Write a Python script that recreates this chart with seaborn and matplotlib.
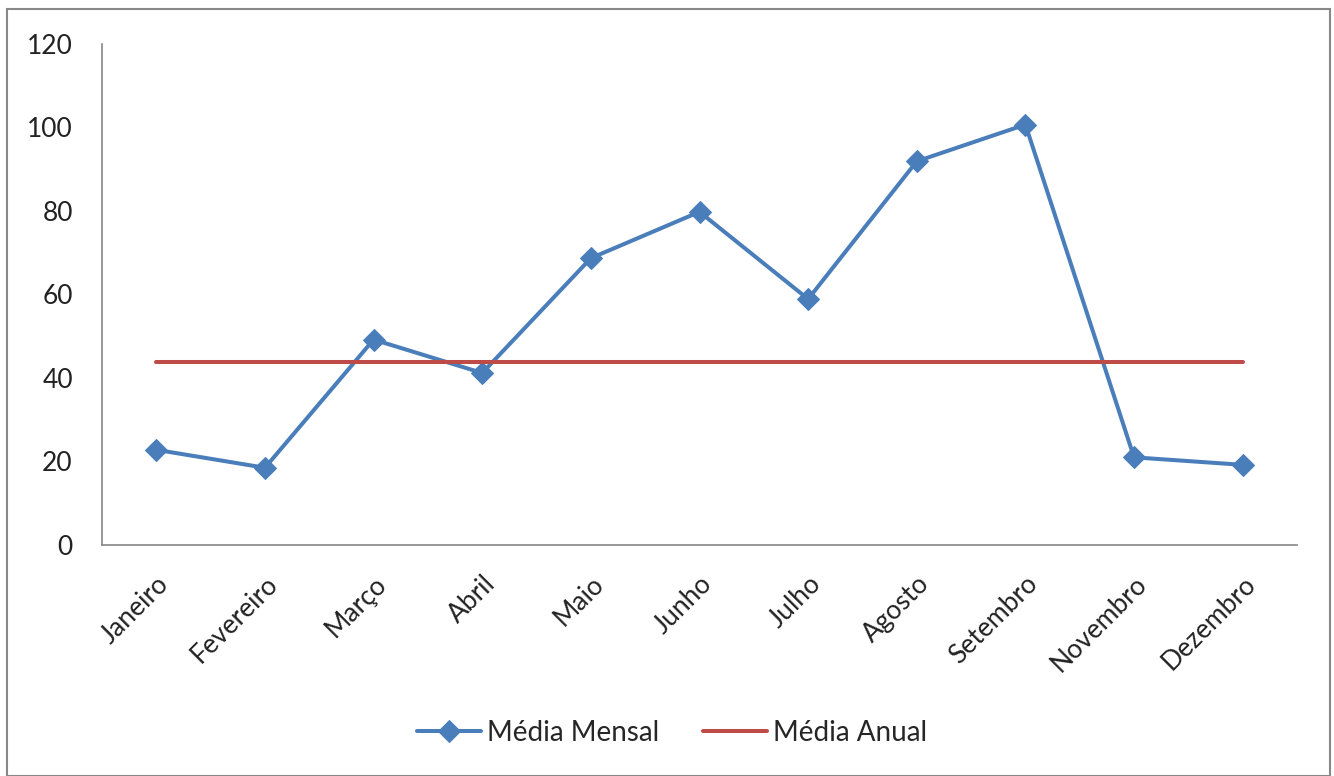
import matplotlib
matplotlib.use("Agg")
import matplotlib.pyplot as plt
import seaborn as sns
import pandas as pd
from matplotlib.patches import Rectangle

meses = ["Janeiro", "Fevereiro", "Março", "Abril", "Maio", "Junho", "Julho",
         "Agosto", "Setembro", "Novembro", "Dezembro"]
media_mensal = [22.8, 18.5, 49.2, 41.2, 68.7, 79.8, 58.9, 91.9, 100.7, 21.0, 19.2]
media_anual = [43.8] * len(meses)
yticks = [0, 20, 40, 60, 80, 100, 120]

sns.set_theme(style="white")
plt.rcParams['font.family'] = ['Lato', 'DejaVu Sans']

df = pd.DataFrame({"mes": meses, "mensal": media_mensal, "anual": media_anual})
df["x"] = range(len(meses))

FS = 19

fig = plt.figure(figsize=(13.34, 7.76), dpi=100)
ax = fig.add_axes([102/1334, 1-545/776, (1297-102)/1334, (545-44)/776])

sns.lineplot(data=df, x="x", y="mensal", ax=ax, color="#4A7EBB", linewidth=2.9,
             marker="D", markersize=11, markeredgecolor="#4A7EBB", label="Média Mensal")
sns.lineplot(data=df, x="x", y="anual", ax=ax, color="#BE4B48", linewidth=2.9,
             label="Média Anual")

ax.set_xlim(-0.5, len(meses) - 0.5)
ax.set_ylim(0, 120)
ax.set_yticks(yticks)
ax.set_yticklabels([str(v) for v in yticks], fontsize=FS, color="#222222")
ax.set_xticks(df["x"])
ax.set_xticklabels(meses, rotation=45, ha="right", rotation_mode="anchor",
                   fontsize=FS, color="#222222")
ax.tick_params(axis="y", length=0, pad=21)
ax.tick_params(axis="x", length=0, pad=19)
ax.set_xlabel("")
ax.set_ylabel("")
for s in ["top", "right"]:
    ax.spines[s].set_visible(False)
for s in ["left", "bottom"]:
    ax.spines[s].set_color("#868686")
    ax.spines[s].set_linewidth(1.2)

ax.legend(loc="center", bbox_to_anchor=(672/1334, 1-733/776),
          bbox_transform=fig.transFigure, ncol=2, frameon=False,
          fontsize=20, handlelength=2.3, columnspacing=1.6, handletextpad=0.2)

fig.patches.append(Rectangle((7/1334, 0), (1330-7)/1334, 1-9/776,
                             transform=fig.transFigure, fill=False,
                             edgecolor="#888888", linewidth=1.5))

fig.savefig("out.png", dpi=100)
